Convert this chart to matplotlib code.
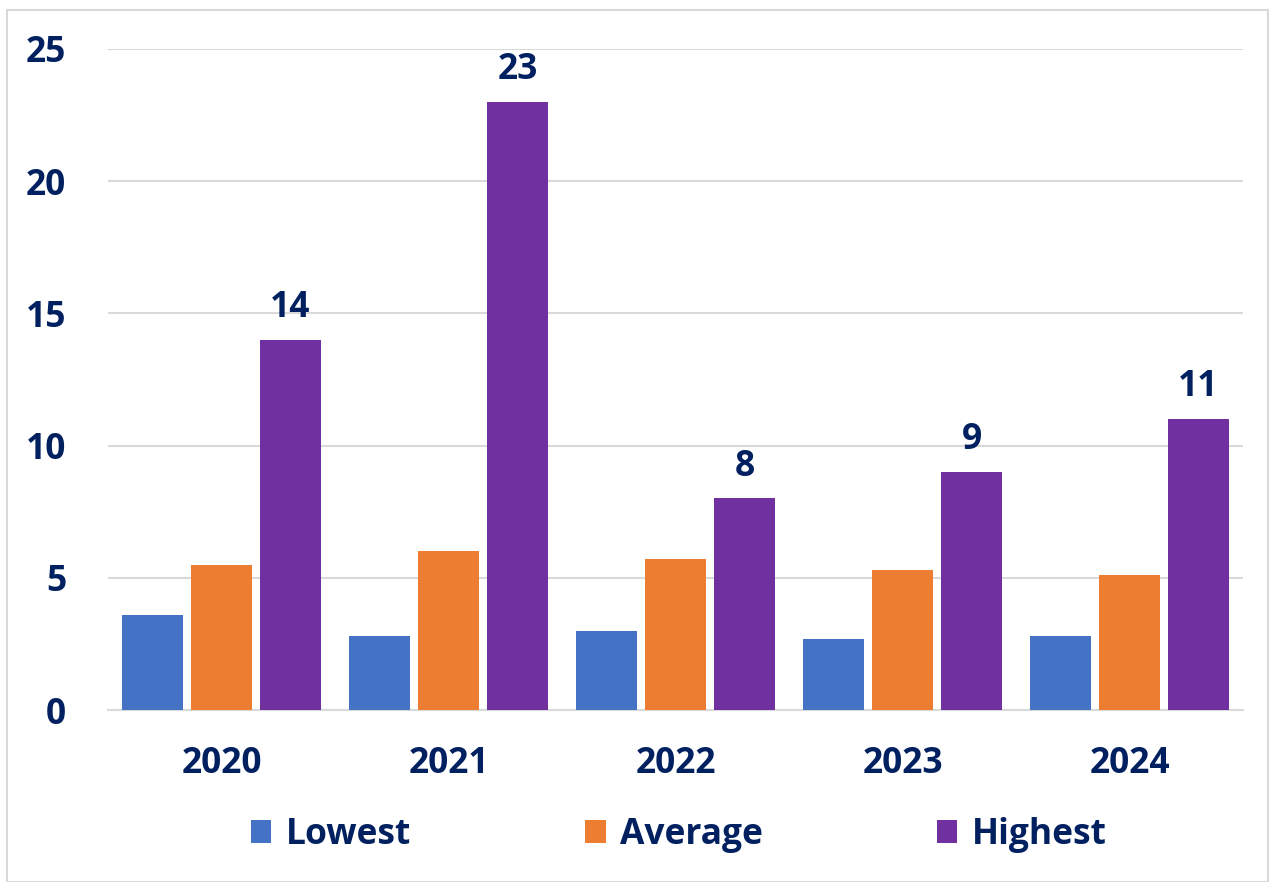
import matplotlib.pyplot as plt
import numpy as np
from matplotlib.patches import Rectangle

anos = ["2020", "2021", "2022", "2023", "2024"]
lowest = [3.6, 2.8, 3.0, 2.7, 2.8]
average = [5.5, 6.0, 5.7, 5.3, 5.1]
highest = [14, 23, 8, 9, 11]
series = ["Lowest", "Average", "Highest"]

cores = ["#4472C4", "#ED7D31", "#7030A0"]
navy = "#002060"
plt.rcParams['font.family'] = ['Open Sans', 'DejaVu Sans']
fs = 25.5

fig = plt.figure(figsize=(12.69, 8.82), dpi=100)
ax = fig.add_axes([108 / 1269, 1 - 710 / 882, 1135 / 1269, 661 / 882])

x = np.arange(len(anos))
largura = 0.273
passo = 0.304
barras = []
for i, (valores, cor) in enumerate(zip([lowest, average, highest], cores)):
    b = ax.bar(x + (i - 1) * passo, valores, largura, color=cor, label=series[i], zorder=3)
    barras.append(b)

ax.bar_label(barras[2], labels=[str(v) for v in highest], padding=10,
             color=navy, fontsize=fs, fontweight="bold")

ax.set_xlim(-0.5, 4.5)
ax.set_ylim(0, 25)
ax.set_yticks(np.arange(0, 26, 5))
ax.set_xticks(x)
ax.set_xticklabels(anos)
ax.tick_params(axis="both", length=0, labelsize=fs, labelcolor=navy)
ax.tick_params(axis="y", pad=30)
ax.tick_params(axis="x", pad=26)
for lab in ax.get_xticklabels() + ax.get_yticklabels():
    lab.set_fontweight("bold")
ax.grid(axis="y", color="#D9D9D9", linewidth=1.5, zorder=0)
for s in ["top", "right", "left"]:
    ax.spines[s].set_visible(False)
ax.spines["bottom"].set_color("#D9D9D9")
ax.spines["bottom"].set_linewidth(1.5)

leg = fig.legend(handles=barras, labels=series, loc="center",
                 bbox_to_anchor=(679 / 1269, 1 - 835 / 882), ncol=3, frameon=False,
                 prop={"size": fs, "weight": "bold"}, handlelength=0.58, handleheight=0.58,
                 handletextpad=0.42, columnspacing=4.9)
for t in leg.get_texts():
    t.set_color(navy)

fig.patches.append(Rectangle((7 / 1269, 0), 1 - 8 / 1269, 1 - 10 / 882, transform=fig.transFigure,
                             fill=False, edgecolor="#D9D9D9", linewidth=1.5))

plt.savefig("out.png", dpi=100)
